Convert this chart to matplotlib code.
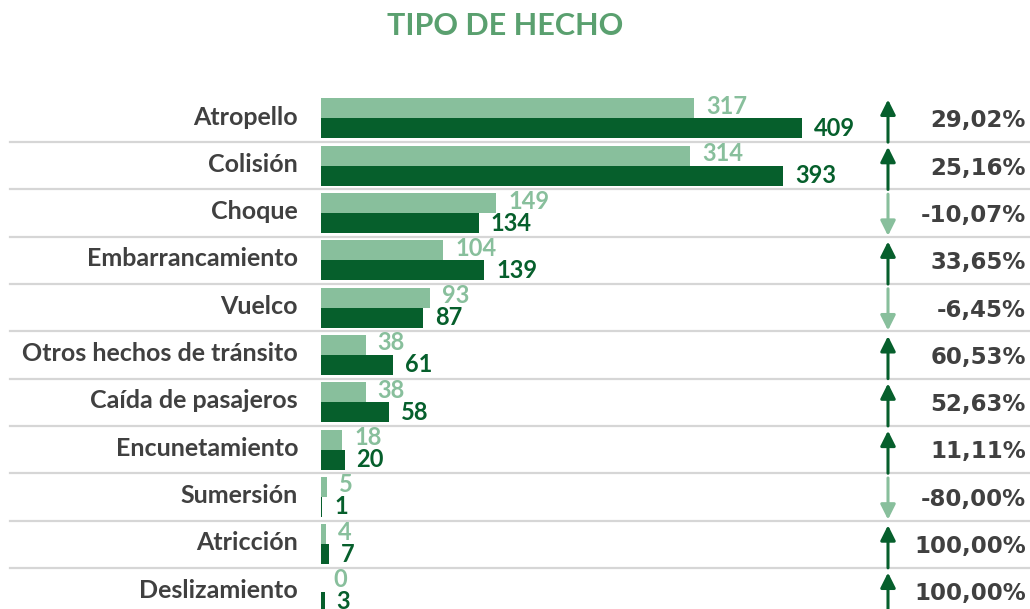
import matplotlib.pyplot as plt
import numpy as np

# datos
categorias = ["Atropello", "Colisión", "Choque", "Embarrancamiento", "Vuelco",
              "Otros hechos de tránsito", "Caída de pasajeros", "Encunetamiento",
              "Sumersión", "Atricción", "Deslizamiento"]
anterior = [317, 314, 149, 104, 93, 38, 38, 18, 5, 4, 0]
actual = [409, 393, 134, 139, 87, 61, 58, 20, 1, 7, 3]
variacion = ["29,02%", "25,16%", "-10,07%", "33,65%", "-6,45%", "60,53%",
             "52,63%", "11,11%", "-80,00%", "100,00%", "100,00%"]

verde_claro = "#88bf9c"
verde_oscuro = "#065f2c"
gris_texto = "#404040"
color_titulo = "#5aa06f"

plt.rcParams["font.family"] = ["Lato", "DejaVu Sans"]

W, H = 1030, 609
fig = plt.figure(figsize=(W / 100, H / 100), dpi=100)
ax = fig.add_axes([0, 0, 1, 1])

# escala: 0 en x=321 px, 1.176 px por unidad
px_unidad = 1.176
x0 = 321
ax.set_xlim(-x0 / px_unidad, (W - x0) / px_unidad)
# filas: centro fila 0 en y=118.5 px, paso 47.3 px
paso = 47.3
c0 = 118.5
ax.set_ylim((H - c0) / paso, -c0 / paso)
ax.axis("off")

n = len(categorias)
y = np.arange(n)
alto = 20 / paso
ax.barh(y - alto / 2, anterior, height=alto, color=verde_claro, linewidth=0)
ax.barh(y + alto / 2, actual, height=alto, color=verde_oscuro, linewidth=0)

yt = ax.get_yaxis_transform()
for i in range(n):
    ax.annotate(str(anterior[i]), xy=(anterior[i], y[i] - alto / 2),
                xytext=(12, 2), textcoords="offset pixels", ha="left", va="center",
                fontsize=17, color=verde_claro, fontweight="bold")
    ax.annotate(str(actual[i]), xy=(actual[i], y[i] + alto / 2),
                xytext=(12, 0), textcoords="offset pixels", ha="left", va="center",
                fontsize=17, color=verde_oscuro, fontweight="bold")
    ax.text(298 / W, y[i] - 0.03, categorias[i], transform=yt, ha="right", va="center",
            fontsize=18, color=gris_texto, fontweight="bold")
    ax.text(1026 / W, y[i] + 0.05, variacion[i], transform=yt, ha="right", va="center",
            fontsize=16.5, color=gris_texto, fontweight="bold", family="DejaVu Sans")

    # flecha de tendencia
    if actual[i] >= anterior[i]:
        tail, tip, col = y[i] + 0.5, y[i] - 0.4, verde_oscuro
    else:
        tail, tip, col = y[i] - 0.4, y[i] + 0.48, verde_claro
    ax.annotate("", xy=(888 / W, tip), xytext=(888 / W, tail),
                xycoords=("axes fraction", "data"),
                arrowprops=dict(arrowstyle="-|>,head_width=0.45,head_length=0.9",
                                color=col, lw=2.2, shrinkA=0, shrinkB=0))

    # separadores
    if i < n - 1:
        ax.plot([10 / W, 1.0], [y[i] + 0.5, y[i] + 0.5], transform=yt,
                color="#d6d6d6", lw=1.6, clip_on=False, zorder=0)

fig.text(505 / W, 1 - 26 / H, "TIPO DE HECHO", ha="center", va="center",
         fontsize=22, color=color_titulo, fontweight="bold")

fig.savefig("out.png", dpi=100)
